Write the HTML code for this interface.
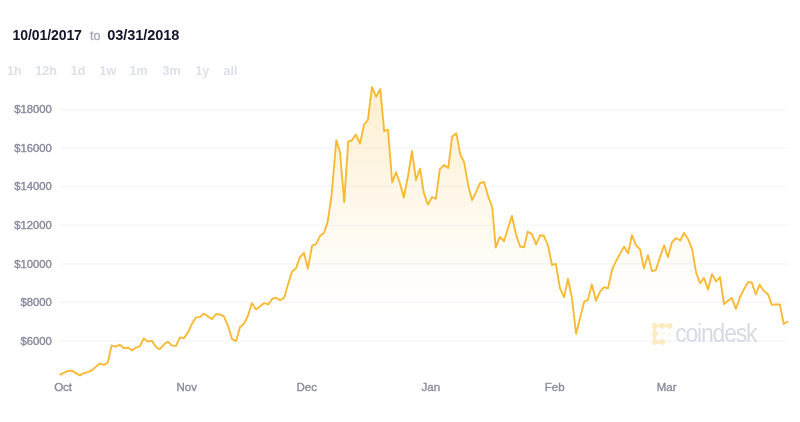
<!DOCTYPE html>
<html lang="en"><head><meta charset="utf-8"><title>Bitcoin price chart</title>
<style>
html,body{margin:0;padding:0;background:#fff;}
body{width:800px;height:422px;overflow:hidden;font-family:"Liberation Sans",sans-serif;}
svg{display:block;filter:blur(0.45px);}
.date{font:bold 14px "Liberation Sans",sans-serif;fill:#14142b;letter-spacing:-0.1px;}
.to{font:12.5px "Liberation Sans",sans-serif;fill:#a3a6b4;stroke:#a3a6b4;stroke-width:0.3;}
.rng text{font:bold 12.5px "Liberation Sans",sans-serif;fill:#dde0eb;text-anchor:middle;}
.yl text{font:11.3px "Liberation Sans",sans-serif;fill:#888b9c;stroke:#888b9c;stroke-width:0.4;text-anchor:end;}
.xl text{font:11.5px "Liberation Sans",sans-serif;fill:#888b9c;stroke:#888b9c;stroke-width:0.35;text-anchor:middle;}
.grid line{stroke:#f0f2fb;stroke-width:1.8;stroke-dasharray:0.9 0.7;}
.wm{font:25.5px "Liberation Sans",sans-serif;fill:#d7dae5;letter-spacing:-1.3px;}
</style></head>
<body>
<svg width="800" height="422" viewBox="0 0 800 422">
<defs><linearGradient id="fillg" gradientUnits="userSpaceOnUse" x1="0" y1="85" x2="0" y2="380">
<stop offset="0.000" stop-color="#f7b52a" stop-opacity="0.22"/>
<stop offset="0.220" stop-color="#f7b52a" stop-opacity="0.155"/>
<stop offset="0.390" stop-color="#f7b52a" stop-opacity="0.1"/>
<stop offset="0.559" stop-color="#f7b52a" stop-opacity="0.05"/>
<stop offset="0.695" stop-color="#f7b52a" stop-opacity="0.015"/>
<stop offset="0.803" stop-color="#f7b52a" stop-opacity="0.0"/>
<stop offset="1.000" stop-color="#f7b52a" stop-opacity="0.0"/>
</linearGradient></defs>
<rect width="800" height="422" fill="#fff"/>
<text class="date" x="12.6" y="40.2" textLength="69.2" lengthAdjust="spacingAndGlyphs">10/01/2017</text>
<text class="to" x="90" y="40">to</text>
<text class="date" x="107.3" y="40.2" textLength="72" lengthAdjust="spacingAndGlyphs">03/31/2018</text>
<g class="rng"><text x="14.35" y="74.8">1h</text><text x="46.1" y="74.8">12h</text><text x="78.15" y="74.8">1d</text><text x="107.8" y="74.8">1w</text><text x="138.6" y="74.8">1m</text><text x="171.55" y="74.8">3m</text><text x="202.35" y="74.8">1y</text><text x="230.45" y="74.8">all</text></g>
<g class="grid"><line x1="60" x2="787" y1="109.5" y2="109.5"/><line x1="60" x2="787" y1="148.2" y2="148.2"/><line x1="60" x2="787" y1="186.6" y2="186.6"/><line x1="60" x2="787" y1="225.3" y2="225.3"/><line x1="60" x2="787" y1="263.9" y2="263.9"/><line x1="60" x2="787" y1="302.2" y2="302.2"/><line x1="60" x2="787" y1="341.1" y2="341.1"/></g>
<g class="yl"><text x="51.9" y="112.9">$18000</text><text x="51.9" y="151.5">$16000</text><text x="51.9" y="190.0">$14000</text><text x="51.9" y="228.8">$12000</text><text x="51.9" y="267.6">$10000</text><text x="51.9" y="306.0">$8000</text><text x="51.9" y="344.7">$6000</text></g>
<path d="M60.3,374.6 L64.2,372.7 L68.2,370.8 L72.0,370.6 L76.0,373.1 L79.9,375.5 L83.7,373.1 L87.7,372.1 L91.5,370.6 L95.5,367.1 L99.6,363.7 L104.0,364.9 L107.8,362.7 L111.6,345.6 L115.6,346.7 L119.7,344.8 L124.1,348.2 L127.9,347.6 L131.9,350.4 L136.0,347.6 L139.9,346.4 L143.7,338.4 L147.7,341.5 L151.9,340.8 L156.0,347.1 L159.7,349.2 L163.9,344.6 L167.9,341.7 L172.0,345.6 L176.0,345.9 L180.0,337.4 L184.0,338.1 L188.0,332.4 L191.9,323.9 L195.9,317.3 L199.7,317.2 L203.7,313.6 L207.8,316.3 L211.9,319.1 L216.0,314.2 L219.8,314.4 L223.8,316.3 L228.0,325.8 L232.1,339.2 L236.1,341.2 L240.0,327.1 L244.1,323.5 L247.9,315.9 L251.8,303.1 L256.0,309.6 L260.2,306.2 L264.2,303.1 L268.3,304.4 L272.1,299.0 L275.9,297.7 L280.0,300.2 L284.0,298.0 L288.0,284.6 L292.0,271.4 L296.0,268.3 L299.8,257.6 L303.9,252.8 L307.9,268.7 L312.1,245.7 L315.9,244.4 L320.3,235.6 L324.0,233.0 L327.7,221.6 L331.5,196.0 L336.3,140.3 L340.0,152.0 L344.2,202.1 L348.2,141.6 L351.8,140.3 L355.8,134.6 L360.0,143.5 L364.1,124.5 L367.9,119.8 L371.9,87.2 L376.1,96.7 L380.3,89.1 L384.2,131.2 L388.0,129.7 L392.2,182.4 L396.0,172.3 L400.0,183.5 L403.8,197.5 L408.0,176.0 L412.0,151.2 L416.0,180.0 L420.0,168.7 L423.7,192.2 L427.9,204.6 L432.0,197.0 L435.8,198.9 L439.8,169.3 L444.2,164.9 L448.3,168.0 L452.1,136.7 L456.3,133.3 L460.3,154.5 L464.1,162.1 L468.2,185.4 L472.0,200.0 L475.8,192.6 L480.0,183.2 L484.0,182.0 L488.1,196.0 L492.3,207.5 L495.7,247.3 L499.9,236.9 L503.9,241.2 L508.0,228.3 L511.9,215.9 L516.0,234.5 L520.1,246.5 L524.0,247.4 L527.7,231.8 L531.9,234.1 L536.1,244.5 L540.1,235.1 L543.9,236.0 L548.0,245.5 L552.0,265.0 L555.8,263.8 L560.0,288.4 L564.1,297.0 L567.9,279.0 L571.9,297.5 L576.1,333.9 L580.3,316.9 L584.2,301.7 L588.0,299.8 L591.8,284.3 L596.0,300.8 L599.8,292.2 L604.0,287.1 L607.9,288.5 L612.1,269.7 L615.9,261.4 L620.0,253.9 L624.0,246.6 L628.1,253.2 L631.9,235.2 L635.9,245.2 L640.1,249.4 L643.9,268.3 L648.0,255.1 L652.0,271.2 L655.8,270.2 L660.0,257.0 L664.1,245.2 L667.9,257.0 L671.9,242.4 L676.1,238.0 L680.3,240.5 L684.1,232.9 L688.0,239.0 L692.2,249.4 L696.0,272.2 L700.0,283.3 L704.0,277.9 L708.0,289.6 L712.0,274.1 L716.1,281.5 L720.0,277.1 L724.0,304.0 L728.0,300.8 L731.8,297.9 L735.9,308.9 L740.1,297.0 L743.9,289.4 L747.9,282.2 L751.7,282.4 L755.8,294.5 L759.6,284.6 L763.8,290.9 L767.6,293.7 L771.9,304.9 L775.7,304.5 L779.9,304.5 L783.7,324.1 L787.5,321.6 L787.5,380 L60.3,380 Z" fill="url(#fillg)" stroke="none"/>
<g fill="#fdecc2" stroke="none">
<circle cx="654.8" cy="325.8" r="3.0"/><circle cx="662.2" cy="325.8" r="3.0"/><circle cx="669.5" cy="325.8" r="3.0"/>
<circle cx="654.8" cy="334.1" r="3.0"/><circle cx="654.8" cy="342.0" r="3.0"/><circle cx="662.2" cy="342.0" r="3.0"/>
<rect x="654.8" y="324.35" width="14.700000000000045" height="2.9"/>
<rect x="653.3499999999999" y="325.8" width="2.9" height="16.19999999999999"/>
<rect x="654.8" y="340.55" width="7.400000000000091" height="2.9"/>
<circle cx="662.2" cy="334.1" r="0.9"/><circle cx="669.5" cy="334.1" r="0.9"/><circle cx="669.5" cy="342.0" r="0.9"/>
</g>
<text class="wm" id="wm" transform="translate(675.2 341.5) scale(0.9 1)">coindesk</text>
<path d="M60.3,374.6 L64.2,372.7 L68.2,370.8 L72.0,370.6 L76.0,373.1 L79.9,375.5 L83.7,373.1 L87.7,372.1 L91.5,370.6 L95.5,367.1 L99.6,363.7 L104.0,364.9 L107.8,362.7 L111.6,345.6 L115.6,346.7 L119.7,344.8 L124.1,348.2 L127.9,347.6 L131.9,350.4 L136.0,347.6 L139.9,346.4 L143.7,338.4 L147.7,341.5 L151.9,340.8 L156.0,347.1 L159.7,349.2 L163.9,344.6 L167.9,341.7 L172.0,345.6 L176.0,345.9 L180.0,337.4 L184.0,338.1 L188.0,332.4 L191.9,323.9 L195.9,317.3 L199.7,317.2 L203.7,313.6 L207.8,316.3 L211.9,319.1 L216.0,314.2 L219.8,314.4 L223.8,316.3 L228.0,325.8 L232.1,339.2 L236.1,341.2 L240.0,327.1 L244.1,323.5 L247.9,315.9 L251.8,303.1 L256.0,309.6 L260.2,306.2 L264.2,303.1 L268.3,304.4 L272.1,299.0 L275.9,297.7 L280.0,300.2 L284.0,298.0 L288.0,284.6 L292.0,271.4 L296.0,268.3 L299.8,257.6 L303.9,252.8 L307.9,268.7 L312.1,245.7 L315.9,244.4 L320.3,235.6 L324.0,233.0 L327.7,221.6 L331.5,196.0 L336.3,140.3 L340.0,152.0 L344.2,202.1 L348.2,141.6 L351.8,140.3 L355.8,134.6 L360.0,143.5 L364.1,124.5 L367.9,119.8 L371.9,87.2 L376.1,96.7 L380.3,89.1 L384.2,131.2 L388.0,129.7 L392.2,182.4 L396.0,172.3 L400.0,183.5 L403.8,197.5 L408.0,176.0 L412.0,151.2 L416.0,180.0 L420.0,168.7 L423.7,192.2 L427.9,204.6 L432.0,197.0 L435.8,198.9 L439.8,169.3 L444.2,164.9 L448.3,168.0 L452.1,136.7 L456.3,133.3 L460.3,154.5 L464.1,162.1 L468.2,185.4 L472.0,200.0 L475.8,192.6 L480.0,183.2 L484.0,182.0 L488.1,196.0 L492.3,207.5 L495.7,247.3 L499.9,236.9 L503.9,241.2 L508.0,228.3 L511.9,215.9 L516.0,234.5 L520.1,246.5 L524.0,247.4 L527.7,231.8 L531.9,234.1 L536.1,244.5 L540.1,235.1 L543.9,236.0 L548.0,245.5 L552.0,265.0 L555.8,263.8 L560.0,288.4 L564.1,297.0 L567.9,279.0 L571.9,297.5 L576.1,333.9 L580.3,316.9 L584.2,301.7 L588.0,299.8 L591.8,284.3 L596.0,300.8 L599.8,292.2 L604.0,287.1 L607.9,288.5 L612.1,269.7 L615.9,261.4 L620.0,253.9 L624.0,246.6 L628.1,253.2 L631.9,235.2 L635.9,245.2 L640.1,249.4 L643.9,268.3 L648.0,255.1 L652.0,271.2 L655.8,270.2 L660.0,257.0 L664.1,245.2 L667.9,257.0 L671.9,242.4 L676.1,238.0 L680.3,240.5 L684.1,232.9 L688.0,239.0 L692.2,249.4 L696.0,272.2 L700.0,283.3 L704.0,277.9 L708.0,289.6 L712.0,274.1 L716.1,281.5 L720.0,277.1 L724.0,304.0 L728.0,300.8 L731.8,297.9 L735.9,308.9 L740.1,297.0 L743.9,289.4 L747.9,282.2 L751.7,282.4 L755.8,294.5 L759.6,284.6 L763.8,290.9 L767.6,293.7 L771.9,304.9 L775.7,304.5 L779.9,304.5 L783.7,324.1 L787.5,321.6" fill="none" stroke="#f8b830" stroke-width="1.85" stroke-linejoin="round" stroke-linecap="round"/>
<g class="xl"><text x="63.1" y="390.9">Oct</text><text x="186.8" y="390.9">Nov</text><text x="306.8" y="390.9">Dec</text><text x="430.8" y="390.9">Jan</text><text x="554.7" y="390.9">Feb</text><text x="666.6" y="390.9">Mar</text></g>
</svg>
</body></html>
